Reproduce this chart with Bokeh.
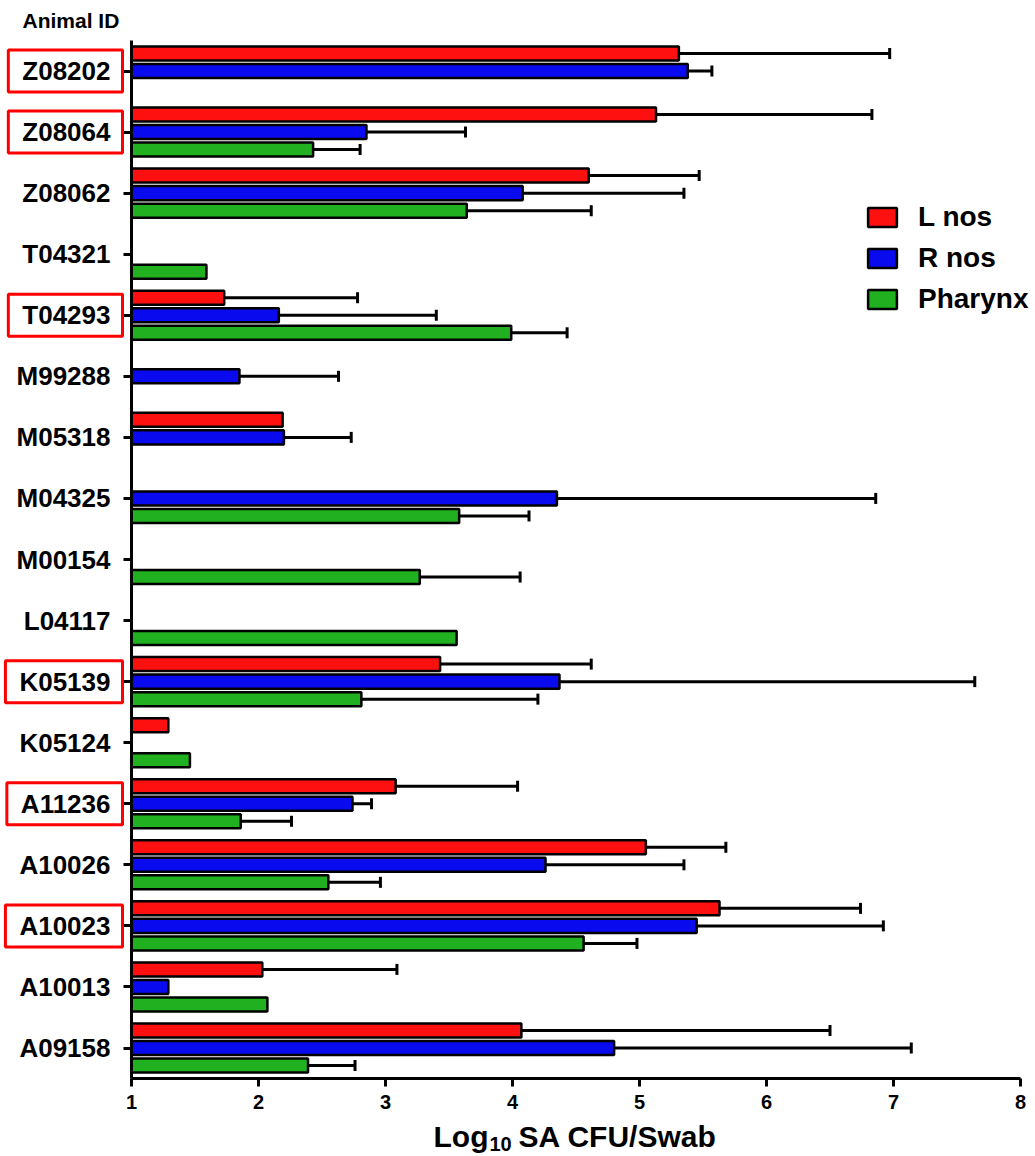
from bokeh.plotting import figure
from bokeh.models import (ColumnDataSource, Range1d, Whisker, TeeHead,
                          Label, Legend, LegendItem, FixedTicker)
from bokeh.transform import dodge
from bokeh.embed import file_html
from bokeh.resources import INLINE

animals = ["Z08202", "Z08064", "Z08062", "T04321", "T04293", "M99288", "M05318",
           "M04325", "M00154", "L04117", "K05139", "K05124", "A11236", "A10026",
           "A10023", "A10013", "A09158"]
highlighted = ["Z08202", "Z08064", "T04293", "K05139", "A11236", "A10023"]

series_names = ["L nos", "R nos", "Pharynx"]
l_nos = [5.31, 5.13, 4.60, None, 1.73, None, 2.19, None, None, None, 3.43, 1.29,
         3.08, 5.05, 5.63, 2.03, 4.07]
l_nos_upper = [6.97, 6.83, 5.47, None, 2.78, None, None, None, None, None, 4.62, None,
               4.04, 5.68, 6.74, 3.09, 6.50]
r_nos = [5.38, 2.85, 4.08, None, 2.16, 1.85, 2.20, 4.35, None, None, 4.37, None,
         2.74, 4.26, 5.45, 1.29, 4.80]
r_nos_upper = [5.57, 3.63, 5.35, None, 3.40, 2.63, 2.73, 6.86, None, None, 7.64, None,
               2.89, 5.35, 6.92, None, 7.14]
pharynx = [None, 2.43, 3.64, 1.59, 3.99, None, None, 3.58, 3.27, 3.56, 2.81, 1.46,
           1.86, 2.55, 4.56, 2.07, 2.39]
pharynx_upper = [None, 2.80, 4.62, None, 4.43, None, None, 4.13, 4.06, None, 4.20, None,
                 2.26, 2.96, 4.98, None, 2.76]
x_ticks = [1, 2, 3, 4, 5, 6, 7, 8]

colors = ["#ff1010", "#0a0aee", "#20b020"]
offsets = [0.287, 0.0, -0.287]
FONT = "Liberation Sans"

# ---- layout (pixels) ----
W, H = 1035, 1156
PX_X_MIN, PX_X_MAX = 131, 1020          # where x=1 and x=8 sit
PX_CAT_TOP, PX_CAT_BOT = 70.5, 1047.5   # centres of first and last category
n = len(animals)
x_lo, x_hi = x_ticks[0], x_ticks[-1]
sx = (PX_X_MAX - PX_X_MIN) / (x_hi - x_lo)
sy = (PX_CAT_BOT - PX_CAT_TOP) / (n - 1)
x_range = Range1d(x_lo - PX_X_MIN / sx, x_hi + (W - PX_X_MAX) / sx)
y_range = Range1d(-(H - PX_CAT_BOT) / sy, (n - 1) + PX_CAT_TOP / sy)

ypos = {a: n - 1 - i for i, a in enumerate(animals)}

p = figure(width=W, height=H, output_backend="svg", toolbar_location=None,
           x_range=x_range, y_range=y_range,
           min_border_left=0, min_border_right=0, min_border_top=0, min_border_bottom=0)
p.outline_line_color = None
p.xgrid.visible = False
p.ygrid.visible = False

# x axis
p.xaxis.fixed_location = -0.5
p.xaxis.bounds = (x_lo, x_hi)
p.xaxis.ticker = FixedTicker(ticks=x_ticks)
p.xaxis.minor_tick_line_color = None
p.xaxis.axis_line_width = 3
p.xaxis.major_tick_line_width = 3
p.xaxis.major_tick_out = 8
p.xaxis.major_tick_in = 0
p.xaxis.major_label_standoff = 8
p.xaxis.major_label_text_font = FONT
p.xaxis.major_label_text_font_style = "bold"
p.xaxis.major_label_text_font_size = "20px"
p.xaxis.major_label_text_color = "black"

# y axis
p.yaxis.fixed_location = x_lo
p.yaxis.bounds = (-0.5, n - 0.5)
p.yaxis.ticker = FixedTicker(ticks=list(range(n)))
p.yaxis.minor_tick_line_color = None
p.yaxis.axis_line_width = 3
p.yaxis.major_tick_line_width = 3
p.yaxis.major_tick_out = 8
p.yaxis.major_tick_in = 0
p.yaxis.major_label_text_color = None

values = [l_nos, r_nos, pharynx]
uppers = [l_nos_upper, r_nos_upper, pharynx_upper]
renderers = []
for name, vals, ups, col, off in zip(series_names, values, uppers, colors, offsets):
    ids = [a for a, v in zip(animals, vals) if v is not None]
    src = ColumnDataSource(dict(animal=ids, y=[ypos[a] for a in ids],
                                value=[v for v in vals if v is not None]))
    r = p.hbar(y=dodge("y", off), left=x_lo, right="value",
               height=0.23, source=src, fill_color=col, line_color="black", line_width=2.5)
    renderers.append(r)
    eids = [a for a, v, u in zip(animals, vals, ups) if v is not None and u is not None]
    esrc = ColumnDataSource(dict(
        animal=eids, y=[ypos[a] for a in eids],
        value=[v for v, u in zip(vals, ups) if v is not None and u is not None],
        upper=[u for v, u in zip(vals, ups) if v is not None and u is not None]))
    w = Whisker(source=esrc, base=dodge("y", off), lower="value",
                upper="upper", dimension="width", line_width=3, line_color="black",
                upper_head=TeeHead(size=11, line_width=3, line_color="black"),
                lower_head=None)
    p.add_layout(w)

legend = Legend(items=[LegendItem(label=nm, renderers=[r]) for nm, r in zip(series_names, renderers)],
                location=(864, H - 315), glyph_width=36, glyph_height=24, label_standoff=18,
                spacing=9, padding=0, margin=0, border_line_color=None,
                background_fill_alpha=0, label_text_font=FONT, label_text_font_style="bold",
                label_text_font_size="28px", label_text_color="black")
p.add_layout(legend)

for a in animals:
    hl = a in highlighted
    p.add_layout(Label(x=122, y=ypos[a], x_units="screen", y_units="data", text=a,
                       text_align="right", text_baseline="middle", text_font=FONT,
                       text_font_style="bold", text_font_size="26px", text_color="black",
                       border_line_color="red" if hl else None, border_line_width=3,
                       padding=dict(top=6, right=12, bottom=6, left=14)))

p.add_layout(Label(x=22, y=H - 20, x_units="screen", y_units="screen", text="Animal ID",
                   text_align="left", text_baseline="middle", text_font=FONT,
                   text_font_style="bold", text_font_size="21px", text_color="black"))

p.add_layout(Label(x=433, y=H - 1136, x_units="screen", y_units="screen", text="Log",
                   text_align="left", text_baseline="alphabetic", text_font=FONT,
                   text_font_style="bold", text_font_size="30px", text_color="black"))
p.add_layout(Label(x=489, y=H - 1143, x_units="screen", y_units="screen", text="10",
                   text_align="left", text_baseline="alphabetic", text_font=FONT,
                   text_font_style="bold", text_font_size="20px", text_color="black"))
p.add_layout(Label(x=518, y=H - 1136, x_units="screen", y_units="screen", text="SA CFU/Swab",
                   text_align="left", text_baseline="alphabetic", text_font=FONT,
                   text_font_style="bold", text_font_size="30px", text_color="black"))

open("out.html", "w").write(file_html(p, INLINE))
